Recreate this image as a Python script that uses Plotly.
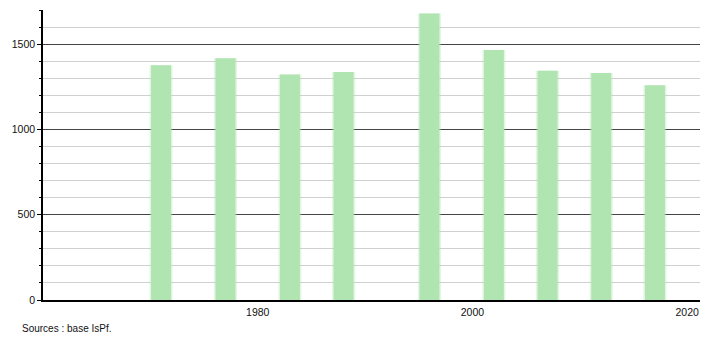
import plotly.graph_objects as go

years = [1971, 1977, 1983, 1988, 1996, 2002, 2007, 2012, 2017]
population = [1376, 1417, 1322, 1336, 1680, 1465, 1344, 1331, 1259]
x_tick_vals = [1980, 2000, 2020]
y_tick_vals = [0, 500, 1000, 1500]
source_text = "Sources : base IsPf."

fig = go.Figure()
# soft halo to mimic blurred bar edges
fig.add_trace(go.Bar(x=years, y=population, width=2.15,
                     marker=dict(color="rgba(176,228,176,0.35)", line=dict(width=0)),
                     hoverinfo="skip", showlegend=False))
fig.add_trace(go.Bar(x=years, y=population, width=1.86,
                     marker=dict(color="#b0e4b0", line=dict(width=0)),
                     showlegend=False))

fig.update_layout(
    width=710, height=340,
    margin=dict(l=43, r=10, t=10, b=40),
    paper_bgcolor="white", plot_bgcolor="white",
    barmode="overlay",
    font=dict(family="Liberation Sans, Arial, sans-serif", size=10.5, color="#111"),
    xaxis=dict(range=[1960, 2021.2], tickvals=x_tick_vals, showgrid=False,
               showline=True, linecolor="black", linewidth=1.5, ticks="",
               zeroline=False, fixedrange=True, ticklabelstandoff=2),
    yaxis=dict(range=[0, 1700], tickvals=y_tick_vals, showgrid=True,
               gridcolor="#444", gridwidth=1, showline=True, linecolor="black",
               linewidth=1.5, ticks="outside", ticklen=4, tickcolor="black",
               zeroline=False,
               minor=dict(dtick=100, tick0=0, ticks="outside", ticklen=2,
                          tickcolor="black", showgrid=True, gridcolor="#d0d0d0",
                          gridwidth=1)),
    annotations=[dict(text=source_text, x=0, y=0, xref="paper", yref="paper",
                      showarrow=False, xanchor="left", yanchor="middle",
                      font=dict(size=10, color="#111"))],
)
# place annotation at pixel position (20, 328) via paper fractions
fig.layout.annotations[0].update(x=(20 - 43) / (710 - 53), y=(340 - 40 - 328) / (340 - 50))

fig.write_html("out.html")
